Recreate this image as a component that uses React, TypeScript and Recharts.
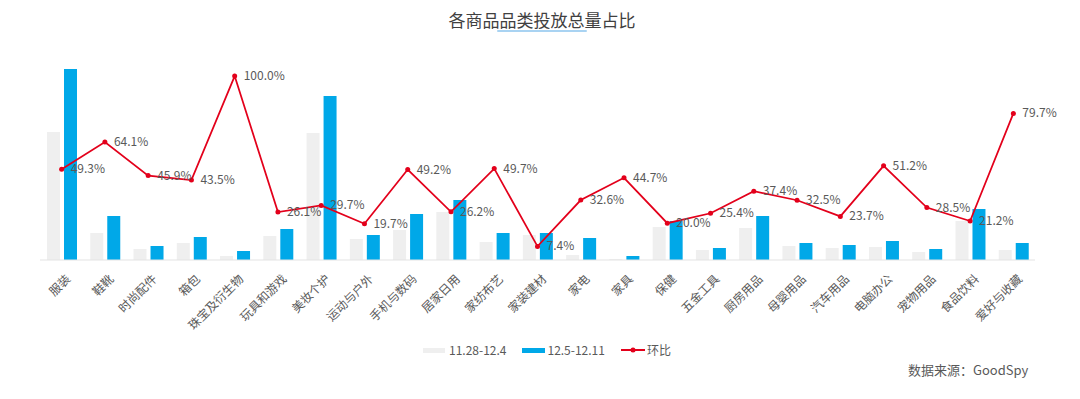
import React from "react";
import {
  ComposedChart,
  Bar,
  Line,
  XAxis,
  YAxis,
  LabelList,
} from "recharts";

const categories = [
  "服装", "鞋靴", "时尚配件", "箱包", "珠宝及衍生物", "玩具和游戏", "美妆个护",
  "运动与户外", "手机与数码", "居家日用", "家纺布艺", "家装建材", "家电", "家具",
  "保健", "五金工具", "厨房用品", "母婴用品", "汽车用品", "电脑办公", "宠物用品",
  "食品饮料", "爱好与收藏",
];
const prevWeek = [128, 27, 11, 17, 4, 24, 127, 21, 30, 48, 18, 25, 5, 1, 33, 10, 32, 14, 12, 13, 8, 39, 10];
const thisWeek = [191, 44, 14, 23, 9, 31, 164, 25, 46, 60, 27, 27, 22, 4, 39, 12, 44, 17, 15, 19, 11, 51, 17];
const ratio = [49.3, 64.1, 45.9, 43.5, 100.0, 26.1, 29.7, 19.7, 49.2, 26.2, 49.7, 7.4, 32.6, 44.7, 20.0, 25.4, 37.4, 32.5, 23.7, 51.2, 28.5, 21.2, 79.7];

const data = categories.map((name, i) => ({
  name,
  prev: prevWeek[i],
  cur: thisWeek[i],
  ratio: ratio[i],
}));

const FONT = '"Noto Sans CJK SC", "Noto Sans", sans-serif';
const GREY = "#efefef";
const BLUE = "#00a8e8";
const RED = "#e3001b";

const RatioLabel = (props: any) => {
  const { x, y, value } = props;
  return (
    <text x={x + 9} y={y + 4} fontSize={12} fill="#595959" fontFamily={FONT}>
      {Number(value).toFixed(1)}%
    </text>
  );
};

const AxisTick = (props: any) => {
  const { x, y, payload } = props;
  return (
    <g transform={`translate(${x + 4},${y + 6})`}>
      <text
        textAnchor="end"
        transform="rotate(-45)"
        fontSize={12}
        fill="#595959"
        fontFamily={FONT}
        dy={8}
      >
        {payload.value}
      </text>
    </g>
  );
};

export default function App() {
  return (
    <div
      style={{
        position: "absolute",
        left: 0,
        top: 0,
        width: 1080,
        height: 399,
        background: "#fff",
        fontFamily: FONT,
      }}
    >
      <div
        style={{
          position: "absolute",
          top: 8,
          left: 0,
          width: 1084,
          textAlign: "center",
          fontSize: 17,
          color: "#404040",
          lineHeight: "24px",
        }}
      >
        各商品品类投放总量占比
      </div>
      <div
        style={{
          position: "absolute",
          top: 30,
          left: 497,
          width: 90,
          height: 2,
          background: "#a9d3f2",
          borderRadius: 1,
        }}
      />
      <ComposedChart
        width={1080}
        height={399}
        data={data}
        margin={{ top: 60, right: 45, bottom: 59, left: 40 }}
        barSize={13}
        barGap={4}
      >
        <XAxis
          dataKey="name"
          interval={0}
          tickLine={false}
          axisLine={{ stroke: "#e3e3e3" }}
          tick={<AxisTick />}
          height={80}
        />
        <YAxis yAxisId="bar" hide domain={[0, 200]} />
        <YAxis yAxisId="ratio" hide orientation="right" domain={[0, 108.75]} />
        <Bar yAxisId="bar" dataKey="prev" fill={GREY} isAnimationActive={false} />
        <Bar yAxisId="bar" dataKey="cur" fill={BLUE} isAnimationActive={false} />
        <Line
          yAxisId="ratio"
          dataKey="ratio"
          stroke={RED}
          strokeWidth={1.75}
          dot={{ r: 2.5, fill: RED, stroke: RED, strokeWidth: 0 }}
          activeDot={false}
          isAnimationActive={false}
        >
          <LabelList dataKey="ratio" content={<RatioLabel />} />
        </Line>
      </ComposedChart>
      <div
        style={{
          position: "absolute",
          top: 341,
          left: 423,
          display: "flex",
          alignItems: "center",
          fontSize: 12,
          color: "#595959",
          lineHeight: "18px",
        }}
      >
        <span style={{ width: 22, height: 5, background: GREY, display: "inline-block" }} />
        <span style={{ marginLeft: 4, marginRight: 16 }}>11.28-12.4</span>
        <span style={{ width: 23, height: 5, background: BLUE, display: "inline-block" }} />
        <span style={{ marginLeft: 2, marginRight: 16 }}>12.5-12.11</span>
        <svg width={24} height={8}>
          <line x1={0} y1={4} x2={24} y2={4} stroke={RED} strokeWidth={2} />
          <circle cx={12} cy={4} r={2.5} fill={RED} />
        </svg>
        <span style={{ marginLeft: 2 }}>环比</span>
      </div>
      <div
        style={{
          position: "absolute",
          top: 361,
          left: 908,
          fontSize: 13,
          color: "#595959",
          lineHeight: "18px",
        }}
      >
        数据来源：GoodSpy
      </div>
    </div>
  );
}
